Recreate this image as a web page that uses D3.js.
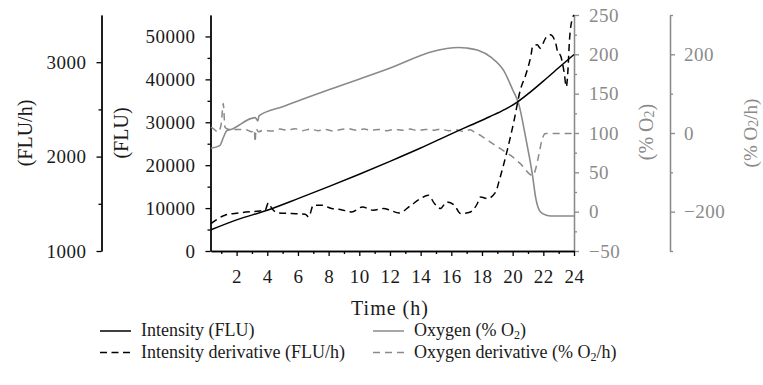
<!DOCTYPE html>
<html>
<head>
<meta charset="utf-8">
<script src="https://cdn.jsdelivr.net/npm/d3@7"></script>
<style>
  body { margin: 0; background: #fff; }
  svg { display: block; font-family: "Liberation Serif", "Times New Roman", serif; }
</style>
</head>
<body>
<div id="chart"></div>
<script>
const width = 763;
const height = 385;

// Intensity (FLU)
const intensityTime = [0.33, 2, 4, 6, 8, 10, 12, 14, 16, 17.25, 18.5, 19.5, 20.3, 21, 22, 23, 24];
const intensity = [4940, 7250, 9500, 12200, 15000, 17900, 20900, 24000, 27300, 29300, 31300, 33000, 34700, 36600, 39600, 42700, 45800];

// Intensity derivative (FLU/h)
const derivTime = [0.33, 0.48, 1.24, 2.1, 3.5, 3.86, 4.07, 4.3, 4.73, 5.6, 6.47, 6.7, 7.0, 7.56, 8.2, 8.76, 9.5, 10.2, 10.9, 11.6, 12, 12.6, 13.3, 14, 14.5, 14.9, 15.3, 15.7, 16.2, 16.6, 17.25, 17.7, 17.9, 18.35, 18.9, 19.1, 19.65, 20.1, 20.5, 20.85, 21.2, 21.3, 21.6, 21.8, 22.15, 22.45, 22.8, 22.96, 23.1, 23.35, 23.5, 23.6, 23.7, 23.9, 24];
const deriv = [1290, 1308, 1379, 1403, 1425, 1432, 1510, 1450, 1403, 1397, 1390, 1361, 1485, 1485, 1450, 1440, 1414, 1467, 1432, 1450, 1432, 1403, 1475, 1556, 1591, 1503, 1450, 1520, 1485, 1397, 1414, 1503, 1573, 1556, 1626, 1732, 2069, 2388, 2706, 2865, 3077, 3166, 3184, 3149, 3255, 3290, 3205, 3096, 3077, 2900, 2741, 2900, 3219, 3467, 3500];

// Oxygen (% O2)
const oxygenTime = [0.33, 0.9, 1.13, 1.35, 1.68, 3.2, 3.3, 3.38, 3.46, 5, 8.3, 11.8, 14.86, 15.7, 16.5, 17, 17.7, 18.6, 19.43, 20, 20.4, 20.85, 21.3, 21.5, 21.8, 22.2, 22.5, 24];
const oxygen = [80.7, 84, 94, 102.7, 104.9, 119.6, 117.6, 115.4, 121.8, 133.5, 157, 181, 204, 207.5, 208.7, 208, 205.4, 196, 179, 155, 136.7, 94, 45.4, 17.8, 0, -4.5, -5.5, -5.5];

// Oxygen derivative (% O2/h)
const oxDerivTime = [0.33, 0.48, 0.8, 1.0, 1.13, 1.24, 1.4, 1.68, 2.55, 3.0, 3.16, 3.2, 3.27, 3.42, 3.75, 4.3, 4.84, 5.3, 5.8, 6.3, 6.8, 7.3, 7.8, 8.3, 8.8, 9.3, 9.8, 10.3, 10.8, 11.3, 11.8, 12.3, 12.8, 13.3, 13.8, 14.3, 14.8, 15.3, 15.8, 16.3, 16.8, 17.2, 17.5, 17.9, 18.55, 19.2, 19.87, 20.5, 21.3, 21.4, 21.7, 21.9, 22.15, 24];
const oxDeriv = [15, 11, 2.5, 24, 75, 15, 10, 8.7, 8.7, 3, 8.7, -23, 11, 3, 7, 5, 10, 7, 11, 6, 10, 6, 9, 5, 9, 11, 7, 10, 7, 9, 6, 9, 7, 10, 6, 9, 7, 10, 6, 8, 4, 8, 3, -6, -23, -40, -57, -78, -108, -103, -57, -19, -1.5, -1.5];

const xTicks = [2, 4, 6, 8, 10, 12, 14, 16, 18, 20, 22, 24];

const black = "#000";
const grey = "#8a8a8a";

const svg = d3.select("#chart").append("svg")
  .attr("width", width)
  .attr("height", height);

const plotTop = 15, plotBottom = 251;
const x = d3.scaleLinear().domain([0.33, 24]).range([211, 574]);
const yFlu = d3.scaleLinear().domain([0, 55000]).range([plotBottom, plotTop]);
const yDer = d3.scaleLinear().domain([1000, 3500]).range([plotBottom, plotTop]);
const yO2 = d3.scaleLinear().domain([-50, 250]).range([plotBottom, plotTop]);
const yO2d = d3.scaleLinear().domain([-300, 300]).range([plotBottom, plotTop]);

function styleAxis(g, color) {
  g.selectAll("path.domain").attr("stroke", color).attr("stroke-width", 1.3);
  g.selectAll(".tick line").attr("stroke", color).attr("stroke-width", 1.3);
  g.selectAll(".tick text").attr("fill", color === black ? "#1a1a1a" : color)
    .style("font-size", "19px")
    .style("letter-spacing", "0.5px")
    .style("font-family", "Liberation Serif, serif");
}

// minor + major ticks helper
function drawAxis(axisFn, scale, pos, majors, minors, color, pad, fmt) {
  const gMinor = svg.append("g").attr("transform", pos)
    .call(axisFn(scale).tickValues(minors).tickSize(3).tickSizeOuter(0).tickFormat(""));
  styleAxis(gMinor, color);
  const gMajor = svg.append("g").attr("transform", pos)
    .call(axisFn(scale).tickValues(majors).tickSize(5).tickSizeOuter(0).tickPadding(pad)
      .tickFormat(fmt || (d => d3.format("d")(d).replace("-", "\u2212"))));
  styleAxis(gMajor, color);
  return gMajor;
}

drawAxis(d3.axisLeft, yDer, "translate(101.5,0)", [1000, 2000, 3000], [1500, 2500], black, 10);
drawAxis(d3.axisLeft, yFlu, "translate(210.5,0)", d3.range(0, 50001, 10000), d3.range(5000, 55000, 10000), black, 10);
drawAxis(d3.axisRight, yO2, "translate(574,0)", d3.range(-50, 251, 50), d3.range(-25, 250, 50), grey, 10);
drawAxis(d3.axisRight, yO2d, "translate(670,0)", [-200, 0, 200], [-300, -100, 100, 300], grey, 9);
drawAxis(d3.axisBottom, x, `translate(0,${plotBottom})`, xTicks, d3.range(1, 24, 2), black, 14, d3.format("d"));

// text with an O2-style subscript
function addParts(t, parts, subSize) {
  parts.forEach(p => {
    const s = t.append("tspan").text(p.t);
    if (p.sub) s.attr("dy", 3).style("font-size", subSize);
    else if (p.after) s.attr("dy", -3);
  });
}

// axis titles
function vTitle(cx, cy, color, parts, size) {
  const t = svg.append("text")
    .attr("transform", `translate(${cx},${cy}) rotate(-90)`)
    .attr("text-anchor", "middle")
    .attr("dominant-baseline", "central")
    .attr("fill", color)
    .style("font-size", size || "20px");
  addParts(t, parts, "14px");
}
vTitle(25, 133, "#1a1a1a", [{t: "(FLU/h)"}]);
vTitle(121, 133, "#1a1a1a", [{t: "(FLU)"}]);
vTitle(646, 132, grey, [{t: "(% O"}, {t: "2", sub: true}, {t: ")", after: true}]);
vTitle(750, 133, grey, [{t: "(% O"}, {t: "2", sub: true}, {t: "/h)", after: true}], "19px");

svg.append("text")
  .attr("x", 390).attr("y", 315)
  .attr("text-anchor", "middle")
  .attr("fill", "#1a1a1a")
  .style("font-size", "20px")
  .style("letter-spacing", "1px")
  .text("Time (h)");

// lines
const line = (ys, tArr, vArr) => d3.line()
  .x((d, i) => x(tArr[i]))
  .y(d => ys(d))
  .curve(d3.curveMonotoneX)(vArr);

svg.append("path").attr("d", line(yO2, oxygenTime, oxygen))
  .attr("fill", "none").attr("stroke", grey).attr("stroke-width", 1.6);
svg.append("path").attr("d", line(yO2d, oxDerivTime, oxDeriv))
  .attr("fill", "none").attr("stroke", grey).attr("stroke-width", 1.5)
  .attr("stroke-dasharray", "7,5");
svg.append("path").attr("d", line(yFlu, intensityTime, intensity))
  .attr("fill", "none").attr("stroke", black).attr("stroke-width", 1.5);
svg.append("path").attr("d", line(yDer, derivTime, deriv))
  .attr("fill", "none").attr("stroke", black).attr("stroke-width", 1.5)
  .attr("stroke-dasharray", "7,4.5");

// legend
const legend = [
  {x: 100, y: 331, color: black, dash: null, parts: [{t: "Intensity (FLU)"}]},
  {x: 100, y: 352.5, color: black, dash: "7,4.5", parts: [{t: "Intensity derivative (FLU/h)"}]},
  {x: 373, y: 331, color: grey, dash: null, parts: [{t: "Oxygen (% O"}, {t: "2", sub: true}, {t: ")", after: true}]},
  {x: 373, y: 352.5, color: grey, dash: "7,5", parts: [{t: "Oxygen derivative (% O"}, {t: "2", sub: true}, {t: "/h)", after: true}]}
];
legend.forEach(l => {
  svg.append("line")
    .attr("x1", l.x).attr("x2", l.x + 31).attr("y1", l.y).attr("y2", l.y)
    .attr("stroke", l.color).attr("stroke-width", 1.5)
    .attr("stroke-dasharray", l.dash);
  const t = svg.append("text")
    .attr("x", l.x + 41).attr("y", l.y + 5)
    .style("font-size", "18px")
    .attr("fill", "#1a1a1a");
  addParts(t, l.parts, "12px");
});
</script>
</body>
</html>
